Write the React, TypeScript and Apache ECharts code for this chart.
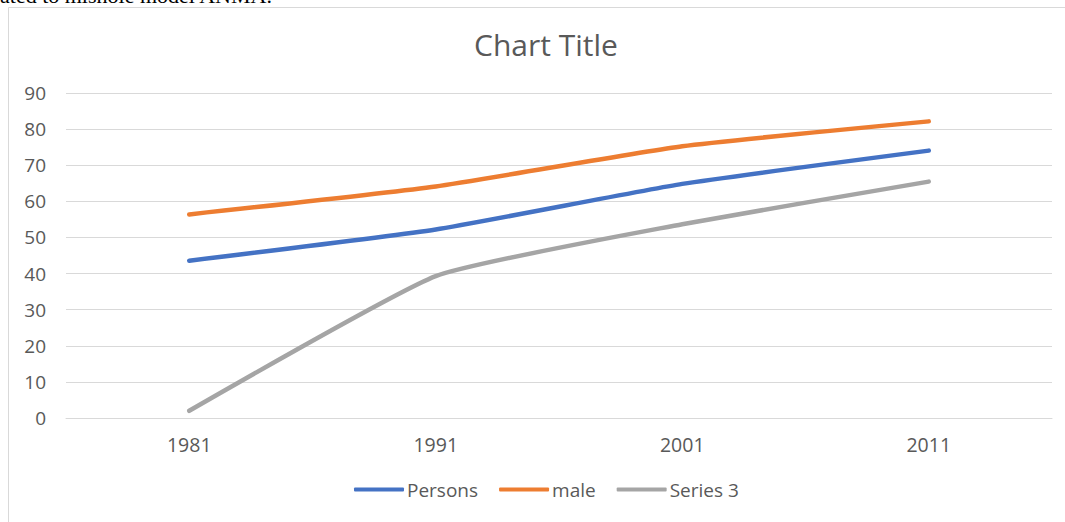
import React, { useEffect, useRef } from "react";
import * as echarts from "echarts";

const categories = ["1981", "1991", "2001", "2011"];
const persons = [43.57, 52.21, 64.83, 74.04];
const male = [56.38, 64.13, 75.26, 82.14];
const series3 = [2, 39.29, 53.67, 65.46];
const seriesNames = ["Persons", "male", "Series 3"];
const colors = ["#4472C4", "#ED7D31", "#A5A5A5"];

const FONT = "'Open Sans', 'Noto Sans', sans-serif";

export default function App() {
  const ref = useRef<HTMLDivElement>(null);
  useEffect(() => {
    if (!ref.current) return;
    const chart = echarts.init(ref.current, null, { renderer: "svg" });
    const data = [persons, male, series3];
    chart.setOption({
      animation: false,
      backgroundColor: "#ffffff",
      title: {
        text: "Chart Title",
        left: 469,
        top: 24,
        textStyle: { fontFamily: FONT, fontSize: 30, fontWeight: "normal", color: "#595959" },
      },
      graphic: [
        {
          type: "text",
          left: 0,
          top: -16,
          style: { text: "ated to mishole model ANMA.", font: "22px 'Liberation Serif', serif", fill: "#000" },
        },
        {
          type: "line",
          shape: { x1: 8.5, y1: 7.5, x2: 8.5, y2: 522 },
          style: { stroke: "#d9d9d9", lineWidth: 1 },
        },
        {
          type: "line",
          shape: { x1: 8.5, y1: 7.5, x2: 1065, y2: 7.5 },
          style: { stroke: "#d9d9d9", lineWidth: 1 },
        },
      ],
      legend: {
        bottom: 18,
        left: 349,
        icon: "roundRect",
        itemWidth: 50,
        itemHeight: 4,
        itemGap: 21,
        textStyle: { fontFamily: FONT, fontSize: 19, color: "#595959", padding: [0, 0, 0, -2] },
        data: seriesNames,
      },
      grid: { left: 66, right: 13, top: 93, bottom: 104, containLabel: false },
      xAxis: {
        type: "category",
        data: categories,
        boundaryGap: true,
        axisLine: { lineStyle: { color: "#d9d9d9" } },
        axisTick: { show: false },
        axisLabel: { fontFamily: FONT, fontSize: 19.5, color: "#595959", margin: 16 },
      },
      yAxis: {
        type: "value",
        min: 0,
        max: 90,
        interval: 10,
        axisLine: { show: false },
        axisTick: { show: false },
        splitLine: { lineStyle: { color: "#d9d9d9" } },
        axisLabel: { fontFamily: FONT, fontSize: 19, color: "#595959", margin: 20 },
      },
      series: seriesNames.map((name, i) => ({
        name,
        type: "line",
        data: data[i],
        smooth: 0.15,
        symbol: "none",
        itemStyle: { color: colors[i] },
        lineStyle: { color: colors[i], width: 4.5, cap: "round" },
      })),
    });
    return () => chart.dispose();
  }, []);
  return (
    <div
      ref={ref}
      style={{ position: "fixed", left: 0, top: 0, width: 1065, height: 522, background: "#fff" }}
    />
  );
}
